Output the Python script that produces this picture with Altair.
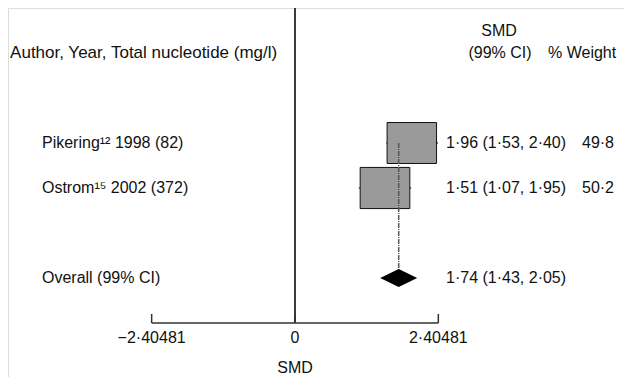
import altair as alt
import pandas as pd

# ---- data ----
studies = ["Pikering¹² 1998 (82)", "Ostrom¹⁵ 2002 (372)"]
smd = [1.96, 1.51]
ci_low = [1.53, 1.07]
ci_high = [2.40, 1.95]
weights = [49.8, 50.2]
ci_labels = ["1·96 (1·53, 2·40)", "1·51 (1·07, 1·95)"]
weight_labels = ["49·8", "50·2"]

overall_label = "Overall (99% CI)"
overall_smd = 1.74
overall_low = 1.43
overall_high = 2.05
overall_ci_label = "1·74 (1·43, 2·05)"

tick_values = [-2.40481, 0.0, 2.40481]
tick_labels = ["−2·40481", "0", "2·40481"]

header_left = "Author, Year, Total nucleotide (mg/l)"
header_smd = ["SMD", "(99% CI)"]
header_weight = "% Weight"
axis_title = "SMD"

# ---- layout (rows top->bottom) ----
study_rows = [2, 3]
overall_row = 5
axis_row = 6
FONT = "Liberation Sans"
FS = 16
TXT = "#111111"

W, H = 616, 369
xs = alt.Scale(domain=[-4.815, 5.520], nice=False, zero=False)
ys = alt.Scale(domain=[-1, 7.2], reverse=True, nice=False, zero=False)


def X(f):
    return alt.X(f, type="quantitative", scale=xs, axis=None)


def Y(f):
    return alt.Y(f, type="quantitative", scale=ys, axis=None)


box_w = 0.0588
box_h = 0.0645
studies_df = pd.DataFrame({
    "study": studies, "smd": smd, "lo": ci_low, "hi": ci_high,
    "w": weights, "ci": ci_labels, "wl": weight_labels, "row": study_rows,
})
studies_df["bx1"] = studies_df["smd"] - box_w * studies_df["w"] ** 0.5
studies_df["bx2"] = studies_df["smd"] + box_w * studies_df["w"] ** 0.5
studies_df["by1"] = studies_df["row"] - box_h * studies_df["w"] ** 0.5
studies_df["by2"] = studies_df["row"] + box_h * studies_df["w"] ** 0.5

zero_df = pd.DataFrame({"x": [0.0], "y": [-1.0], "y2": [float(axis_row)]})
zero_line = alt.Chart(zero_df).mark_rule(color="#3a3a3a", strokeWidth=2).encode(
    x=X("x"), y=Y("y"), y2=alt.Y2("y2"))

whiskers = alt.Chart(studies_df).mark_rule(color="#000000", strokeWidth=1).encode(
    x=X("lo"), x2=alt.X2("hi"), y=Y("row"))

boxes = alt.Chart(studies_df).mark_rect(
    fill="#9a9a9a", stroke="#111111", strokeWidth=1).encode(
    x=X("bx1"), x2=alt.X2("bx2"), y=Y("by1"), y2=alt.Y2("by2"))

dash_df = pd.DataFrame({"x": [overall_smd], "y": [float(study_rows[0])], "y2": [float(overall_row)]})
dashed = alt.Chart(dash_df).mark_rule(
    color="#555555", strokeWidth=1.5, strokeDash=[5, 1, 1, 1]).encode(
    x=X("x"), y=Y("y"), y2=alt.Y2("y2"))

dh = 0.2
diamond_df = pd.DataFrame({
    "x": [overall_low, overall_smd, overall_high],
    "y": [overall_row, overall_row - dh, overall_row],
    "y2": [overall_row, overall_row + dh, overall_row],
})
diamond = alt.Chart(diamond_df).mark_area(color="#000000", orient="vertical").encode(
    x=X("x"), y=Y("y"), y2=alt.Y2("y2"))

label_x = -4.245
ci_x = 2.534
weight_x = 4.815
header_x = -4.78


def text_layer(df, align, size=FS):
    return alt.Chart(df).mark_text(
        align=align, baseline="middle", font=FONT, fontSize=size, color=TXT).encode(
        x=X("x"), y=Y("y"), text="t:N")


header_df = pd.DataFrame({"x": [header_x], "y": [0.0], "t": [header_left]})
left_df = pd.DataFrame({
    "x": [label_x] * 3,
    "y": study_rows + [overall_row],
    "t": studies + [overall_label],
})
ci_df = pd.DataFrame({
    "x": [ci_x] * 3,
    "y": study_rows + [overall_row],
    "t": ci_labels + [overall_ci_label],
})
w_df = pd.DataFrame({
    "x": [weight_x] * 2,
    "y": study_rows,
    "t": weight_labels,
})
head_df = pd.DataFrame({
    "x": [3.423, 3.44],
    "y": [-0.49, 0.0],
    "t": header_smd,
})
headw_df = pd.DataFrame({"x": [4.245], "y": [0.0], "t": [header_weight]})

# axis built from scale values
axis_df = pd.DataFrame({"x": [tick_values[0]], "x2": [tick_values[-1]], "y": [float(axis_row)]})
axis_line = alt.Chart(axis_df).mark_rule(color="#333333", strokeWidth=1.5).encode(
    x=X("x"), x2=alt.X2("x2"), y=Y("y"))
ticks_df = pd.DataFrame({"x": tick_values, "y": [axis_row - 0.2] * 3, "y2": [float(axis_row)] * 3,
                         "t": tick_labels, "ly": [axis_row + 0.33] * 3})
ticks = alt.Chart(ticks_df).mark_rule(color="#333333", strokeWidth=1.5).encode(
    x=X("x"), y=Y("y"), y2=alt.Y2("y2"))
tick_text = alt.Chart(ticks_df).mark_text(
    align="center", baseline="middle", font=FONT, fontSize=FS, color=TXT).encode(
    x=X("x"), y=Y("ly"), text="t:N")
title_df = pd.DataFrame({"x": [0.0], "y": [7.0], "t": [axis_title]})

chart = alt.layer(
    zero_line, whiskers, boxes, dashed, diamond,
    text_layer(header_df, "left", 17),
    text_layer(left_df, "left"), text_layer(ci_df, "left"), text_layer(w_df, "left"),
    text_layer(head_df, "center"), text_layer(headw_df, "left"),
    axis_line, ticks, tick_text, text_layer(title_df, "center"),
).properties(
    width=W, height=H, padding=0,
    autosize=alt.AutoSizeParams(type="none"),
).configure_view(stroke=None).configure(background="white")

chart.save("out.html", embed_options={"renderer": "svg", "actions": False})
